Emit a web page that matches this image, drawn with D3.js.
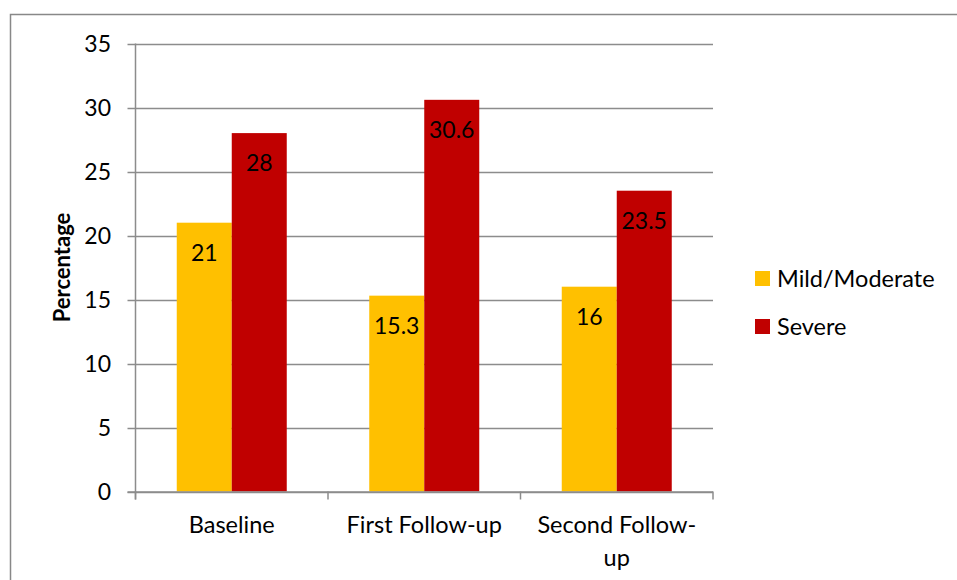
<!DOCTYPE html>
<html>
<head>
<meta charset="utf-8">
<script src="https://cdn.jsdelivr.net/npm/d3@7"></script>
<style>
  body { margin: 0; background: #fff; }
  text { font-family: "Lato", "Open Sans", sans-serif; fill: #000; }
</style>
</head>
<body>
<div class="chart"></div>
<script>
var categories = [["Baseline"], ["First Follow-up"], ["Second Follow-", "up"]];
var seriesNames = ["Mild/Moderate", "Severe"];
var mildValues = [21, 15.3, 16];
var severeValues = [28, 30.6, 23.5];
var yTicks = [0, 5, 10, 15, 20, 25, 30, 35];
var colors = ["#FFC000", "#C00000"];

var width = 957,
    height = 580;

var x0 = 135.5, x1 = 713, yTop = 43.5, yBot = 491.5;

var svg = d3.select(".chart").append("svg")
    .attr("width", width)
    .attr("height", height);

// outer frame
svg.append("path")
    .attr("d", "M10.5," + height + "V14.5H" + width)
    .attr("fill", "none")
    .attr("stroke", "#888")
    .attr("stroke-width", 1.5);

var x = d3.scaleBand()
    .domain(d3.range(categories.length))
    .range([x0, x1]);

var inner = d3.scaleBand()
    .domain([0, 1])
    .range([0, x.bandwidth()])
    .paddingOuter(0.75)
    .paddingInner(0);

var y = d3.scaleLinear()
    .domain([0, 35])
    .range([yBot, yTop]);

// gridlines
svg.append("g")
  .selectAll("line")
  .data(yTicks)
  .enter().append("line")
    .attr("x1", x0 - 8)
    .attr("x2", x1)
    .attr("y1", function(d) { return Math.round(y(d)) + 0.5; })
    .attr("y2", function(d) { return Math.round(y(d)) + 0.5; })
    .attr("stroke", "#8c8c8c")
    .attr("stroke-width", 1.5);

// y axis labels
svg.append("g")
  .selectAll("text")
  .data(yTicks)
  .enter().append("text")
    .attr("x", 111)
    .attr("y", function(d) { return y(d); })
    .attr("dy", "0.36em")
    .attr("text-anchor", "end")
    .style("font-size", "23px")
    .text(function(d) { return d; });

// y axis line
svg.append("line")
    .attr("x1", x0).attr("x2", x0)
    .attr("y1", yTop).attr("y2", yBot + 8)
    .attr("stroke", "#8c8c8c")
    .attr("stroke-width", 1.5);

// x ticks at category boundaries
svg.append("g")
  .selectAll("line")
  .data(d3.range(categories.length + 1))
  .enter().append("line")
    .attr("x1", function(d) { return x0 + d * x.step(); })
    .attr("x2", function(d) { return x0 + d * x.step(); })
    .attr("y1", yBot)
    .attr("y2", yBot + 8)
    .attr("stroke", "#8c8c8c")
    .attr("stroke-width", 1.5);

var data = categories.map(function(c, i) {
  return [mildValues[i], severeValues[i]];
});

var groups = svg.append("g")
  .selectAll("g")
  .data(data)
  .enter().append("g")
    .attr("transform", function(d, i) { return "translate(" + x(i) + ",0)"; });

groups.selectAll("rect")
    .data(function(d) { return d; })
    .enter().append("rect")
    .attr("x", function(d, j) { return inner(j); })
    .attr("width", inner.bandwidth())
    .attr("y", function(d) { return y(d); })
    .attr("height", function(d) { return yBot - y(d); })
    .attr("fill", function(d, j) { return colors[j]; });

// data labels
groups.selectAll("text")
    .data(function(d) { return d; })
    .enter().append("text")
    .attr("x", function(d, j) { return inner(j) + inner.bandwidth() / 2; })
    .attr("y", function(d) { return y(d) + 38; })
    .attr("text-anchor", "middle")
    .style("font-size", "23px")
    .text(function(d) { return d; });

// redraw baseline above bars
svg.append("line")
    .attr("x1", x0 - 8).attr("x2", x1)
    .attr("y1", yBot + 0.5).attr("y2", yBot + 0.5)
    .attr("stroke", "#8c8c8c")
    .attr("stroke-width", 1.5);

// category labels
var catLabels = svg.append("g")
  .selectAll("text")
  .data(categories)
  .enter().append("text")
    .attr("text-anchor", "middle")
    .attr("x", function(d, i) { return x(i) + x.bandwidth() / 2; })
    .attr("y", 533)
    .style("font-size", "23.5px");

catLabels.selectAll("tspan")
    .data(function(d) { return d; })
    .enter().append("tspan")
    .attr("x", function() { return d3.select(this.parentNode).attr("x"); })
    .attr("dy", function(d, k) { return k === 0 ? 0 : 33; })
    .text(function(d) { return d; });

// y axis title
svg.append("text")
    .attr("transform", "translate(70," + (yTop + yBot) / 2 + ") rotate(-90)")
    .attr("text-anchor", "middle")
    .style("font-size", "22px")
    .style("font-weight", "bold")
    .text("Percentage");

// legend
var legend = svg.append("g")
  .selectAll("g")
  .data(seriesNames)
  .enter().append("g")
    .attr("transform", function(d, i) { return "translate(755," + (271 + i * 48) + ")"; });

legend.append("rect")
    .attr("width", 15)
    .attr("height", 15)
    .attr("fill", function(d, i) { return colors[i]; });

legend.append("text")
    .attr("x", 22)
    .attr("y", 7.5)
    .attr("dy", "0.36em")
    .style("font-size", "23.5px")
    .text(function(d) { return d; });
</script>
</body>
</html>
